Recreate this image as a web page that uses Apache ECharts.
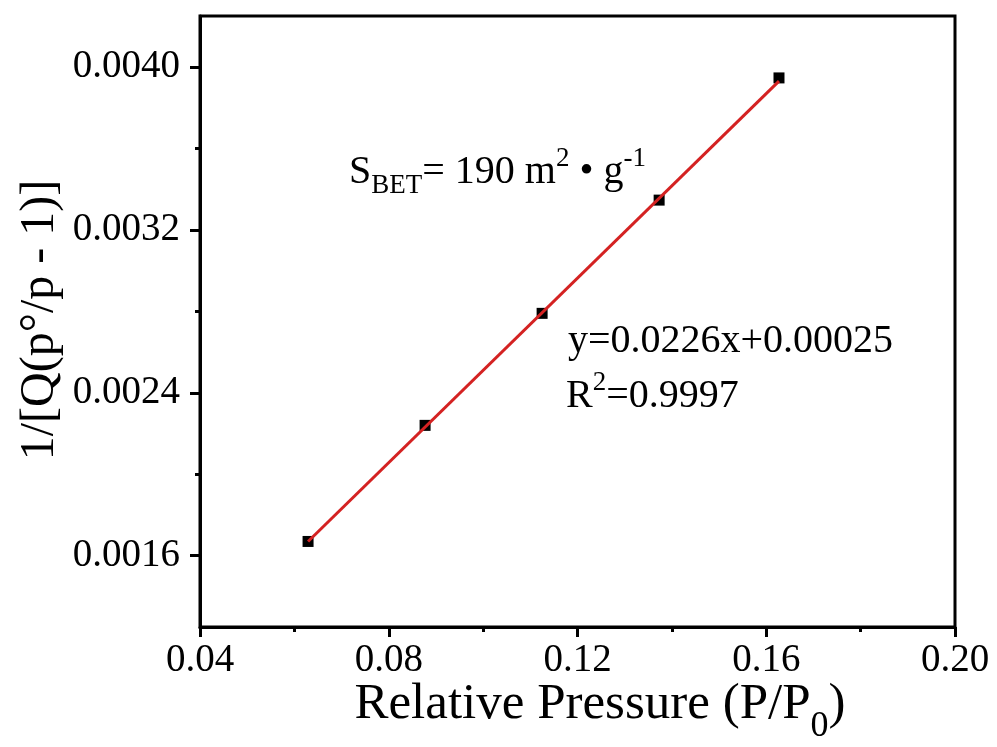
<!DOCTYPE html>
<html>
<head>
<meta charset="utf-8">
<script src="https://cdn.jsdelivr.net/npm/echarts@6/dist/echarts.min.js"></script>
<style>
  html, body { margin: 0; padding: 0; background: #fff; }
  #chart { width: 997px; height: 747px; }
</style>
</head>
<body>
<div id="chart"></div>
<script>
/* BET 数据 */
const pressure = [0.0629, 0.0877, 0.1125, 0.1373, 0.1627];
const betValue = [0.00167, 0.00224, 0.00279, 0.003346, 0.003946];
/* 拟合直线两端 */
const fitX = [0.0629, 0.1627];
const fitY = [0.00167, 0.00393];
/* 刻度 */
const xTicks = [0.04, 0.08, 0.12, 0.16, 0.20];
const yTickLabels = [0.0016, 0.0024, 0.0032, 0.0040];
const yMinorTicks = [0.0020, 0.0028, 0.0036];

const FONT = 'Liberation Serif';
const chart = echarts.init(document.getElementById('chart'));

const option = {
    backgroundColor: '#fff',
    animation: false,
    grid: {
        left: 200, right: 42, top: 16, bottom: 120,
        containLabel: false,
        show: true, borderColor: '#000', borderWidth: 3
    },
    xAxis: {
        type: 'value',
        min: xTicks[0], max: xTicks[xTicks.length - 1], interval: 0.04,
        axisLine: { show: true, lineStyle: { color: '#000', width: 3 } },
        axisTick: { show: true, length: 10, lineStyle: { color: '#000', width: 3 } },
        minorTick: { show: true, splitNumber: 2, length: 5, lineStyle: { color: '#000', width: 3 } },
        splitLine: { show: false },
        axisLabel: {
            margin: 14, color: '#000', fontFamily: FONT, fontSize: 39,
            formatter: v => v.toFixed(2)
        }
    },
    yAxis: [{
        type: 'value',
        min: 0.00125, max: 0.00425,
        axisLine: { show: true, lineStyle: { color: '#000', width: 3 } },
        axisTick: { show: true, length: 10, customValues: yTickLabels, lineStyle: { color: '#000', width: 3 } },
        splitLine: { show: false },
        axisLabel: {
            margin: 20, color: '#000', fontFamily: FONT, fontSize: 39,
            customValues: yTickLabels,
            formatter: v => v.toFixed(4)
        }
    }, {
        /* 次刻度 */
        type: 'value', position: 'left',
        min: 0.00125, max: 0.00425,
        axisLine: { show: false },
        axisTick: { show: true, length: 5, customValues: yMinorTicks, lineStyle: { color: '#000', width: 3 } },
        axisLabel: { show: false },
        splitLine: { show: false }
    }],
    series: [{
        type: 'scatter',
        data: pressure.map((x, i) => [x, betValue[i]]),
        symbol: 'rect', symbolSize: 11,
        itemStyle: { color: '#000', opacity: 1 },
        z: 2
    }, {
        type: 'line',
        data: fitX.map((x, i) => [x, fitY[i]]),
        showSymbol: false, symbol: 'none',
        lineStyle: { color: '#d42222', width: 3 },
        z: 3
    }],
    graphic: [{
        type: 'text',
        x: 600, y: 665,
        style: {
            text: '{m|Relative Pressure (P/P}{s|0}{m|)}',
            align: 'center', verticalAlign: 'top',
            fill: '#000', fontFamily: FONT,
            rich: {
                m: { fontSize: 51, lineHeight: 80, fontFamily: FONT, fill: '#000' },
                s: { fontSize: 36, lineHeight: 36, verticalAlign: 'bottom', fontFamily: FONT, fill: '#000' }
            }
        }
    }, {
        type: 'text',
        x: 40, y: 320, rotation: Math.PI / 2,
        style: {
            text: '1/[Q(p°/p - 1)]',
            align: 'center', verticalAlign: 'middle',
            fill: '#000', fontFamily: FONT, fontSize: 48
        }
    }, {
        type: 'text',
        x: 349, y: 145,
        style: {
            text: '{m|S}{sub|BET}{m|= 190 m}{sup|2}{m| • g}{sup|-1}',
            align: 'left', verticalAlign: 'top',
            fill: '#000', fontFamily: FONT,
            rich: {
                m: { fontSize: 40, lineHeight: 54, fontFamily: FONT, fill: '#000' },
                sub: { fontSize: 27, lineHeight: 27, verticalAlign: 'bottom', fontFamily: FONT, fill: '#000' },
                sup: { fontSize: 27, lineHeight: 44, verticalAlign: 'top', fontFamily: FONT, fill: '#000' }
            }
        }
    }, {
        type: 'text',
        x: 568, y: 341,
        style: {
            text: 'y=0.0226x+0.00025',
            align: 'left', verticalAlign: 'middle',
            fill: '#000', fontFamily: FONT, fontSize: 40
        }
    }, {
        type: 'text',
        x: 566, y: 369,
        style: {
            text: '{m|R}{sup|2}{m|=0.9997}',
            align: 'left', verticalAlign: 'top',
            fill: '#000', fontFamily: FONT,
            rich: {
                m: { fontSize: 40, lineHeight: 54, fontFamily: FONT, fill: '#000' },
                sup: { fontSize: 27, lineHeight: 44, verticalAlign: 'top', fontFamily: FONT, fill: '#000' }
            }
        }
    }]
};

chart.setOption(option);
</script>
</body>
</html>
